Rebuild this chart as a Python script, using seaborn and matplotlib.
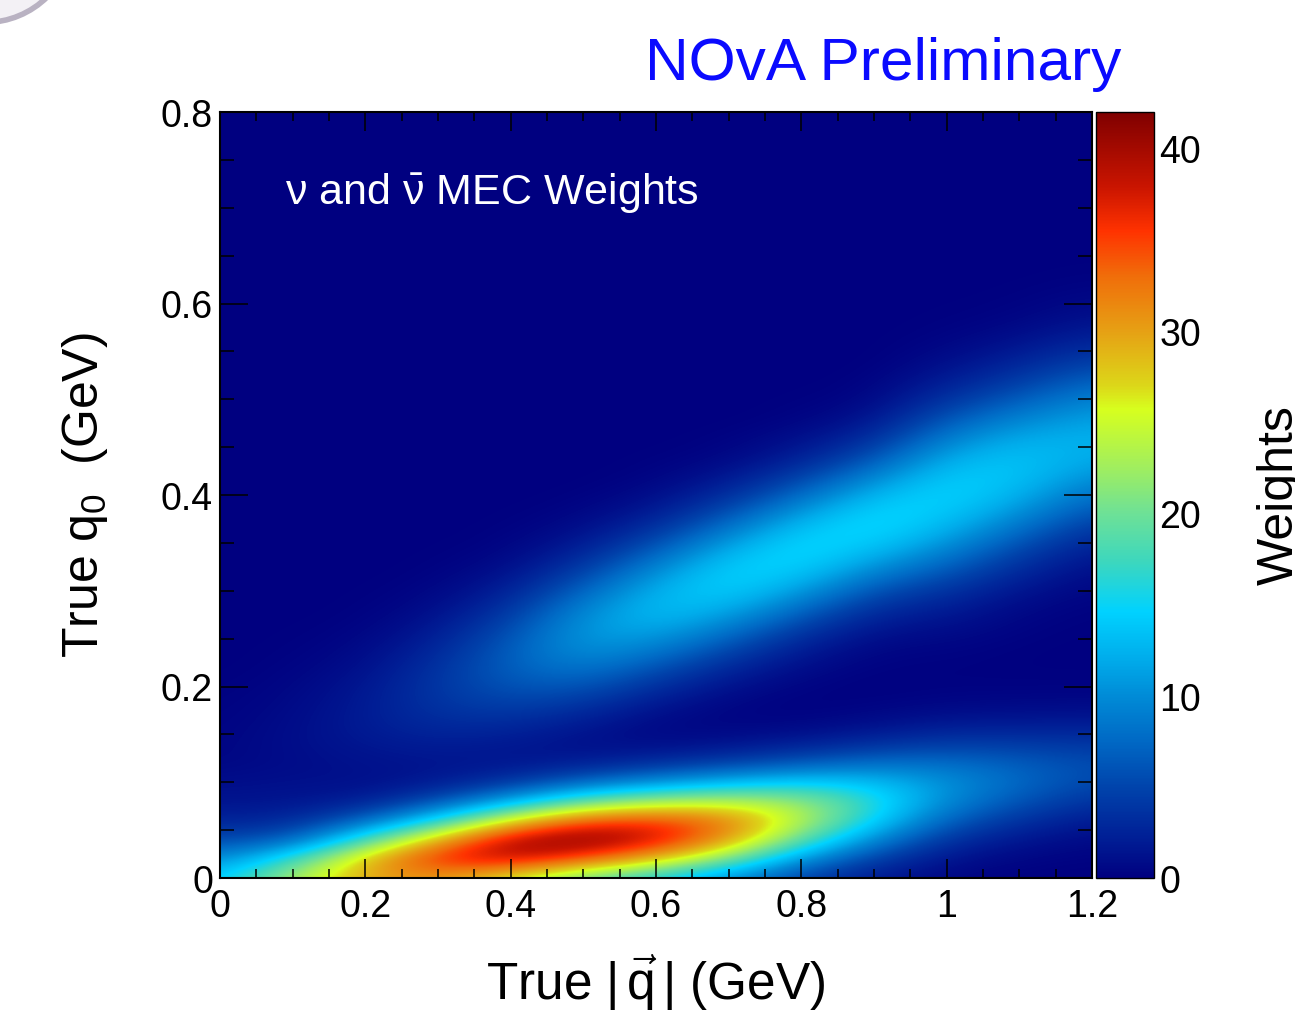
import matplotlib
matplotlib.use("Agg")
import matplotlib.pyplot as plt
import numpy as np
import pandas as pd
import seaborn as sns
from matplotlib.colors import LinearSegmentedColormap
from matplotlib.patches import Circle
from matplotlib.ticker import FixedLocator, MultipleLocator

# ---------------- data ----------------
q_bins = [0.0, 0.1, 0.2, 0.3, 0.4, 0.5, 0.6, 0.7, 0.8, 0.9, 1.0, 1.1, 1.2]
q0_bins = [0.00, 0.02, 0.04, 0.06, 0.08, 0.10, 0.12, 0.14, 0.16, 0.18,
           0.20, 0.22, 0.24, 0.26, 0.28, 0.30, 0.32, 0.34, 0.36, 0.38,
           0.40, 0.42, 0.44, 0.46, 0.48, 0.50, 0.52, 0.54, 0.56, 0.58,
           0.60, 0.62, 0.64, 0.66, 0.68, 0.70, 0.72, 0.74, 0.76, 0.78, 0.80]

# rows: q0 from 0 upward; columns: |q| from 0 to 1.2
weights = [
    [14.0, 23.0, 29.9, 30.7, 25.2, 19.2, 14.8, 9.8, 4.3, 1.6, 0.4, 0.1, 0.0],
    [9.6, 16.8, 28.6, 37.0, 39.0, 34.5, 28.6, 20.6, 10.4, 4.4, 1.3, 0.45, 0.2],
    [5.2, 6.5, 17.6, 29.4, 39.8, 42.0, 38.4, 30.7, 19.0, 9.6, 3.5, 1.5, 0.7],
    [2.5, 2.8, 7.1, 15.5, 26.8, 34.5, 35.6, 32.3, 24.0, 14.8, 6.9, 3.5, 1.8],
    [1.4, 1.5, 2.1, 5.6, 12.0, 19.2, 22.9, 24.1, 22.0, 16.4, 9.8, 6.0, 3.6],
    [1.0, 1.2, 1.1, 1.8, 3.8, 7.3, 10.2, 12.7, 14.5, 13.4, 10.3, 7.5, 5.2],
    [0.5, 0.9, 1.3, 1.5, 1.5, 2.1, 3.3, 4.7, 6.4, 8.0, 7.9, 6.7, 5.4],
    [0.4, 1.0, 1.7, 2.1, 1.75, 1.1, 0.9, 1.3, 2.2, 3.4, 4.5, 4.3, 4.0],
    [0.3, 0.9, 2.0, 3.1, 3.0, 1.8, 0.6, 0.4, 0.5, 1.1, 1.9, 2.0, 2.1],
    [0.2, 0.7, 1.9, 3.8, 4.7, 3.7, 1.5, 0.4, 0.1, 0.3, 0.6, 0.7, 0.8],
    [0.1, 0.5, 1.6, 4.0, 6.2, 6.2, 3.4, 1.2, 0.3, 0.05, 0.2, 0.2, 0.2],
    [0.0, 0.3, 1.1, 3.6, 7.0, 8.7, 6.1, 2.8, 0.9, 0.2, 0.15, 0.05, 0.05],
    [0.0, 0.14, 0.7, 2.7, 6.7, 10.6, 9.2, 5.4, 2.0, 0.5, 0.4, 0.1, 0.0],
    [0.0, 0.06, 0.35, 1.8, 5.5, 10.9, 12.1, 8.7, 4.2, 1.4, 1.0, 0.3, 0.05],
    [0.0, 0.0, 0.15, 1.0, 3.8, 9.7, 13.4, 12.2, 7.4, 3.1, 2.0, 0.6, 0.15],
    [0.0, 0.0, 0.05, 0.5, 2.3, 7.2, 12.6, 14.6, 11.1, 5.8, 3.7, 1.4, 0.4],
    [0.0, 0.0, 0.0, 0.2, 1.15, 4.6, 10.2, 14.8, 14.2, 9.4, 6.2, 2.8, 0.9],
    [0.0, 0.0, 0.0, 0.07, 0.5, 2.5, 7.0, 12.8, 15.5, 12.9, 9.1, 4.7, 1.8],
    [0.0, 0.0, 0.0, 0.0, 0.2, 1.2, 4.1, 9.4, 14.4, 15.2, 12.0, 7.3, 3.3],
    [0.0, 0.0, 0.0, 0.0, 0.06, 0.5, 2.0, 6.0, 11.4, 15.2, 14.1, 10.1, 5.5],
    [0.0, 0.0, 0.0, 0.0, 0.0, 0.15, 0.9, 3.2, 7.7, 12.9, 15.0, 12.5, 7.8],
    [0.0, 0.0, 0.0, 0.0, 0.0, 0.0, 0.3, 1.5, 4.5, 9.4, 14.1, 13.8, 10.2],
    [0.0, 0.0, 0.0, 0.0, 0.0, 0.0, 0.1, 0.5, 2.1, 5.8, 12.0, 13.6, 11.9],
    [0.0, 0.0, 0.0, 0.0, 0.0, 0.0, 0.0, 0.2, 1.0, 3.1, 9.1, 12.1, 12.3],
    [0.0, 0.0, 0.0, 0.0, 0.0, 0.0, 0.0, 0.0, 0.3, 1.4, 6.2, 9.5, 11.4],
    [0.0, 0.0, 0.0, 0.0, 0.0, 0.0, 0.0, 0.0, 0.1, 0.5, 3.7, 6.7, 9.5],
    [0.0, 0.0, 0.0, 0.0, 0.0, 0.0, 0.0, 0.0, 0.0, 0.2, 2.0, 4.3, 7.1],
    [0.0, 0.0, 0.0, 0.0, 0.0, 0.0, 0.0, 0.0, 0.0, 0.0, 1.0, 2.5, 4.7],
    [0.0, 0.0, 0.0, 0.0, 0.0, 0.0, 0.0, 0.0, 0.0, 0.0, 0.4, 1.3, 2.8],
    [0.0, 0.0, 0.0, 0.0, 0.0, 0.0, 0.0, 0.0, 0.0, 0.0, 0.15, 0.5, 1.5],
    [0.0, 0.0, 0.0, 0.0, 0.0, 0.0, 0.0, 0.0, 0.0, 0.0, 0.06, 0.2, 0.75],
    [0.0, 0.0, 0.0, 0.0, 0.0, 0.0, 0.0, 0.0, 0.0, 0.0, 0.0, 0.08, 0.3],
    [0.0, 0.0, 0.0, 0.0, 0.0, 0.0, 0.0, 0.0, 0.0, 0.0, 0.0, 0.0, 0.1],
    [0.0, 0.0, 0.0, 0.0, 0.0, 0.0, 0.0, 0.0, 0.0, 0.0, 0.0, 0.0, 0.0],
    [0.0, 0.0, 0.0, 0.0, 0.0, 0.0, 0.0, 0.0, 0.0, 0.0, 0.0, 0.0, 0.0],
    [0.0, 0.0, 0.0, 0.0, 0.0, 0.0, 0.0, 0.0, 0.0, 0.0, 0.0, 0.0, 0.0],
    [0.0, 0.0, 0.0, 0.0, 0.0, 0.0, 0.0, 0.0, 0.0, 0.0, 0.0, 0.0, 0.0],
    [0.0, 0.0, 0.0, 0.0, 0.0, 0.0, 0.0, 0.0, 0.0, 0.0, 0.0, 0.0, 0.0],
    [0.0, 0.0, 0.0, 0.0, 0.0, 0.0, 0.0, 0.0, 0.0, 0.0, 0.0, 0.0, 0.0],
    [0.0, 0.0, 0.0, 0.0, 0.0, 0.0, 0.0, 0.0, 0.0, 0.0, 0.0, 0.0, 0.0],
    [0.0, 0.0, 0.0, 0.0, 0.0, 0.0, 0.0, 0.0, 0.0, 0.0, 0.0, 0.0, 0.0],
]

x_ticks = [0, 0.2, 0.4, 0.6, 0.8, 1.0, 1.2]
x_tick_labels = ["0", "0.2", "0.4", "0.6", "0.8", "1", "1.2"]
y_ticks = [0, 0.2, 0.4, 0.6, 0.8]
y_tick_labels = ["0", "0.2", "0.4", "0.6", "0.8"]
cbar_ticks = [0, 10, 20, 30, 40]
cbar_tick_labels = ["0", "10", "20", "30", "40"]
w_min, w_max = 0.0, 42.0

# colour-bar colours read at these weight values
palette_values = [0, 2, 5, 7.5, 10, 12, 14.6, 17.3, 20, 22.5, 25.7, 27, 30, 33, 35.5, 38, 42]
palette_colors = ["#000080", "#001c94", "#0044ac", "#0069c5", "#008cd7", "#00aceb",
                  "#00d2ff", "#3cd7be", "#6ee196", "#a0ee5f", "#d7ff1e", "#dcd719",
                  "#e6a014", "#f06e0a", "#ff3200", "#c81400", "#800000"]

# ---------------- style ----------------
sns.set_theme(style="ticks")
plt.rcParams["font.family"] = ["Liberation Sans", "DejaVu Sans"]
plt.rcParams["text.color"] = "black"
plt.rcParams["axes.labelcolor"] = "black"
plt.rcParams["xtick.color"] = "black"
plt.rcParams["ytick.color"] = "black"
plt.rcParams["mathtext.fontset"] = "custom"
plt.rcParams["mathtext.rm"] = "Liberation Sans"
plt.rcParams["mathtext.it"] = "Liberation Sans:italic"
plt.rcParams["mathtext.bf"] = "Liberation Sans:bold"
plt.rcParams["mathtext.sf"] = "Liberation Sans"
plt.rcParams["axes.linewidth"] = 1.5
plt.rcParams["axes.edgecolor"] = "black"

cmap = LinearSegmentedColormap.from_list(
    "root_rainbow",
    [((v - w_min) / (w_max - w_min), c) for v, c in zip(palette_values, palette_colors)],
    N=512)

fig = plt.figure(figsize=(12.95, 10.12), dpi=100)
fig.patch.set_facecolor("white")

ax = fig.add_axes([220 / 1295, 1 - 879 / 1012, 872 / 1295, 766 / 1012])
cax = fig.add_axes([1096 / 1295, 1 - 879 / 1012, 58 / 1295, 766 / 1012])

table = pd.DataFrame(weights, index=q0_bins, columns=q_bins)
dq = q_bins[1] - q_bins[0]
dq0 = q0_bins[1] - q0_bins[0]
im = ax.imshow(table.to_numpy(), origin="lower", aspect="auto", cmap=cmap,
               vmin=w_min, vmax=w_max, interpolation="bicubic",
               extent=(q_bins[0] - dq / 2, q_bins[-1] + dq / 2,
                       q0_bins[0] - dq0 / 2, q0_bins[-1] + dq0 / 2))
ax.set_xlim(q_bins[0], q_bins[-1])
ax.set_ylim(q0_bins[0], q0_bins[-1])

ax.xaxis.set_major_locator(FixedLocator(x_ticks))
ax.set_xticklabels(x_tick_labels)
ax.yaxis.set_major_locator(FixedLocator(y_ticks))
ax.set_yticklabels(y_tick_labels)
ax.xaxis.set_minor_locator(MultipleLocator(0.05))
ax.yaxis.set_minor_locator(MultipleLocator(0.05))
ax.tick_params(axis="x", which="major", direction="in", length=13.7, width=1.1,
               top=True, bottom=True, labelsize=27, pad=7, colors="black")
ax.tick_params(axis="x", which="minor", direction="in", length=6.5, width=1.1,
               top=True, bottom=True, colors="black")
ax.tick_params(axis="y", which="major", direction="in", length=20, width=1.1,
               left=True, right=True, labelsize=27, pad=5, colors="black")
ax.tick_params(axis="y", which="minor", direction="in", length=10, width=1.1,
               left=True, right=True, colors="black")
for s in ax.spines.values():
    s.set_linewidth(1.5)
    s.set_color("black")
    s.set_zorder(5)

cb = fig.colorbar(im, cax=cax, ticks=cbar_ticks)
cb.ax.set_yticklabels(cbar_tick_labels)
cb.outline.set_linewidth(1.0)
cb.outline.set_edgecolor("black")
cax.tick_params(axis="y", which="both", direction="in", length=20, width=1.1,
                right=True, left=False, labelsize=27, pad=4, colors="black")
cax.minorticks_off()

# texts
ax.text(0.0894, 0.704, r"$\mathrm{\nu}$ and $\bar{\mathrm{\nu}}$ MEC Weights",
        color="white", fontsize=31, ha="left", va="baseline", math_fontfamily="custom")
fig.text(645 / 1295, 1 - 80 / 1012, "NOvA Preliminary", color="#0a0aff",
         fontsize=43.5, ha="left", va="baseline")
fig.text(656 / 1295, 1 - 1000 / 1012, r"True $|\,\vec{\mathrm{q}}\,|$ (GeV)",
         fontsize=37, ha="center", va="baseline", color="black")
fig.text(60 / 1295, 1 - 495 / 1012, r"True $\mathrm{q}_{0}$  (GeV)",
         fontsize=36, ha="left", va="center", rotation=90, color="black")
fig.text(1257 / 1295, 1 - 495 / 1012, "Weights", fontsize=36,
         ha="left", va="center", rotation=90, color="black")

# decorative slide edge at top-left
circ = Circle((-0.15, 10.77), 0.885, transform=fig.dpi_scale_trans,
              facecolor="#f3f1f5", edgecolor="#b9b2c2", linewidth=4, zorder=-1)
fig.patches.append(circ)

fig.savefig("out.png", dpi=100, facecolor="white")
